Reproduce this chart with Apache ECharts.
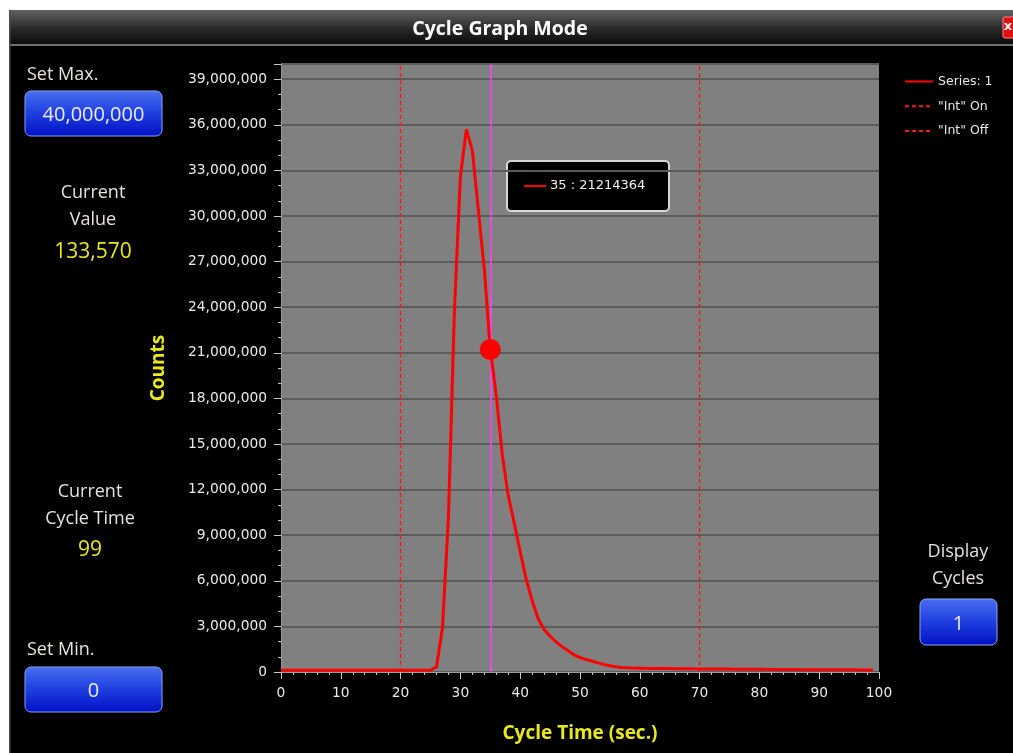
<!DOCTYPE html>
<html><head><meta charset="utf-8">
<script src="https://cdn.jsdelivr.net/npm/echarts@6/dist/echarts.min.js"></script>
<style>html,body{margin:0;padding:0;background:#fff;overflow:hidden}#c{width:1013px;height:753px}</style>
</head><body><div id="c"></div>
<script>
// ---- data ----
const counts = [
  118000,121000,119000,122000,120000,118000,121000,119000,120000,122000,
  121000,119000,120000,118000,121000,123000,120000,119000,121000,120000,
  122000,119000,120000,121000,118000,125000,330000,2900000,10200000,23800000,
  32600000,35700000,34300000,30400000,26500000,21214364,18200000,14300000,11600000,9800000,
  7900000,6100000,4700000,3500000,2800000,2350000,1980000,1670000,1400000,1130000,
  950000,820000,720000,600000,500000,410000,340000,300000,275000,255000,
  245000,240000,236000,232000,228000,224000,220000,216000,212000,208000,
  205000,202000,199000,196000,193000,190000,187000,184000,181000,178000,
  176000,173000,171000,168000,166000,163000,161000,158000,156000,154000,
  152000,150000,148000,146000,144000,142000,140000,138000,136000,133570
];
const seriesNames = ['Series: 1', '"Int" On', '"Int" Off'];
const intOn = 20;
const intOff = 70;
const cursorTime = 35;
const xTicks = {min: 0, max: 100, interval: 10};
const yTicks = {min: 0, max: 40000000, interval: 3000000};
const panel = {setMax: '40,000,000', currentValue: '133,570', currentCycleTime: '99', setMin: '0', displayCycles: '1'};

const points = counts.map((v, i) => [i, v]);
const fmt = v => Number(v).toLocaleString('en-US');

const UI = '"Open Sans", "Noto Sans", sans-serif';
const AX = '"DejaVu Sans", Verdana, sans-serif';
const LABEL_C = '#e6e2da';
const YEL = '#e8e81a';

function button(x, y, w, h, text) {
  return {
    type: 'group', children: [
      {type: 'rect', shape: {x, y, width: w, height: h, r: 6},
        style: {fill: new echarts.graphic.LinearGradient(0, 0, 0, 1, [
          {offset: 0, color: '#4a6ef0'}, {offset: 0.5, color: '#1f3ee0'}, {offset: 1, color: '#0010c4'}]),
          stroke: '#8aa4f4', lineWidth: 1}},
      {type: 'text', style: {text, x: x + w / 2, y: y + h / 2 + 2, fill: '#ececff',
        font: '20px ' + UI, align: 'center', verticalAlign: 'middle'}}
    ]
  };
}
function label(text, x, y, color, size, align) {
  return {type: 'text', style: {text, x, y: y + 2, fill: color || LABEL_C,
    font: (size || 18) + 'px ' + UI, align: align || 'center', verticalAlign: 'middle'}};
}
function vline(name, at) {
  return {
    name, type: 'line', data: [[at, yTicks.min], [at, yTicks.max]], symbol: 'none', silent: true,
    lineStyle: {color: '#ff1a1a', width: 1.5, type: [4, 3]}, itemStyle: {color: '#ff0000'}, z: 3
  };
}

const chart = echarts.init(document.getElementById('c'), null, {renderer: 'canvas'});

const option = {
  backgroundColor: '#000',
  animation: false,
  grid: {left: 281, right: 134, top: 64, bottom: 81, show: true, backgroundColor: '#808080', borderWidth: 0},
  legend: {
    data: seriesNames, orient: 'vertical', left: 899, top: 70, itemWidth: 28, itemHeight: 12, itemGap: 11.8,
    textStyle: {color: '#e8e8e8', fontFamily: AX, fontSize: 12.5}, selectedMode: false,
    itemStyle: {opacity: 0}, lineStyle: {width: 2}
  },
  xAxis: {
    type: 'value', min: xTicks.min, max: xTicks.max, interval: xTicks.interval,
    name: 'Cycle Time (sec.)', nameLocation: 'middle', nameGap: 52,
    nameTextStyle: {color: YEL, fontFamily: UI, fontWeight: 'bold', fontSize: 19},
    axisLine: {show: true, lineStyle: {color: '#9a9a9a', width: 1}},
    axisTick: {show: true, length: 7, lineStyle: {color: '#c8c8c8'}},
    minorTick: {show: true, splitNumber: 5, length: 3, lineStyle: {color: '#c8c8c8'}},
    axisLabel: {color: '#e8e8e8', fontFamily: AX, fontSize: 13.8, margin: 14},
    splitLine: {show: false}
  },
  yAxis: {
    type: 'value', min: yTicks.min, max: yTicks.max, interval: yTicks.interval,
    name: 'Counts', nameLocation: 'middle', nameGap: 113, nameRotate: 90,
    nameTextStyle: {color: YEL, fontFamily: UI, fontWeight: 'bold', fontSize: 19},
    axisLine: {show: true, lineStyle: {color: '#9a9a9a', width: 1}},
    axisTick: {show: true, length: 7, lineStyle: {color: '#c8c8c8'}},
    minorTick: {show: true, splitNumber: 3, length: 3, lineStyle: {color: '#c8c8c8'}},
    axisLabel: {color: '#e8e8e8', fontFamily: AX, fontSize: 13.8, margin: 14, showMaxLabel: false,
      formatter: v => fmt(v)},
    splitLine: {show: true, lineStyle: {color: '#5c5c5c', width: 2}}
  },
  series: [
    {
      name: seriesNames[0], type: 'line', data: points, showSymbol: false, symbol: 'none',
      lineStyle: {color: '#ff0000', width: 3}, itemStyle: {color: '#ff0000'}, z: 5,
      markLine: {
        silent: true, symbol: 'none', label: {show: false}, animation: false,
        lineStyle: {color: '#ff40ff', type: 'solid', width: 1.5},
        data: [{xAxis: cursorTime}]
      },
      markPoint: {
        silent: true, symbol: 'circle', symbolSize: 21, label: {show: false},
        itemStyle: {color: '#ff0000'},
        data: [{coord: [cursorTime, counts[cursorTime]]}]
      }
    },
    vline(seriesNames[1], intOn),
    vline(seriesNames[2], intOff)
  ],
  graphic: [
    {type: 'rect', shape: {x: 0, y: 0, width: 1013, height: 10}, style: {fill: '#fff'}, z: 0},
    {type: 'rect', shape: {x: 0, y: 0, width: 9, height: 753}, style: {fill: '#fff'}, z: 0},
    {type: 'rect', shape: {x: 9, y: 10, width: 1004, height: 35},
      style: {fill: new echarts.graphic.LinearGradient(0, 0, 0, 1, [
        {offset: 0, color: '#626262'}, {offset: 0.55, color: '#282828'}, {offset: 1, color: '#0a0a0a'}])}, z: 0},
    {type: 'rect', shape: {x: 9, y: 44, width: 1004, height: 2}, style: {fill: '#707070'}, z: 0},
    {type: 'rect', shape: {x: 9, y: 10, width: 1.5, height: 743}, style: {fill: '#4a4a4a'}, z: 0},
    {type: 'text', style: {text: 'Cycle Graph Mode', x: 500, y: 29, fill: '#ffffff',
      font: 'bold 19.5px ' + UI, align: 'center', verticalAlign: 'middle'}},
    {type: 'rect', shape: {x: 1003, y: 17, width: 12, height: 21, r: 2}, style: {fill: '#e01010', stroke: '#ff8080', lineWidth: 1}},
    {type: 'text', style: {text: 'x', x: 1008, y: 27, fill: '#fff', font: 'bold 13px ' + AX, align: 'center', verticalAlign: 'middle'}},
    label('Set Max.', 27, 73, LABEL_C, 18, 'left'),
    button(25, 91, 137, 45, panel.setMax),
    label('Current', 93, 191),
    label('Value', 93, 218),
    label(panel.currentValue, 93, 250, YEL, 21),
    label('Current', 90, 490),
    label('Cycle Time', 90, 517),
    label(panel.currentCycleTime, 90, 548, YEL, 21),
    label('Set Min.', 27, 648, LABEL_C, 18, 'left'),
    button(25, 667, 137, 45, panel.setMin),
    label('Display', 958, 550),
    label('Cycles', 958, 577),
    button(920, 599, 77, 46, panel.displayCycles),
    {type: 'group', children: [
      {type: 'rect', shape: {x: 507, y: 161, width: 162, height: 50, r: 4},
        style: {fill: '#000', stroke: '#d8d8d8', lineWidth: 2}},
      {type: 'line', shape: {x1: 524, y1: 186, x2: 546, y2: 186}, style: {stroke: '#ff0000', lineWidth: 2}},
      {type: 'text', style: {text: cursorTime + ' : ' + counts[cursorTime], x: 550, y: 186, fill: '#f0f0f0',
        font: '13px ' + AX, align: 'left', verticalAlign: 'middle'}}
    ]}
  ]
};
chart.setOption(option);
</script>
</body></html>
